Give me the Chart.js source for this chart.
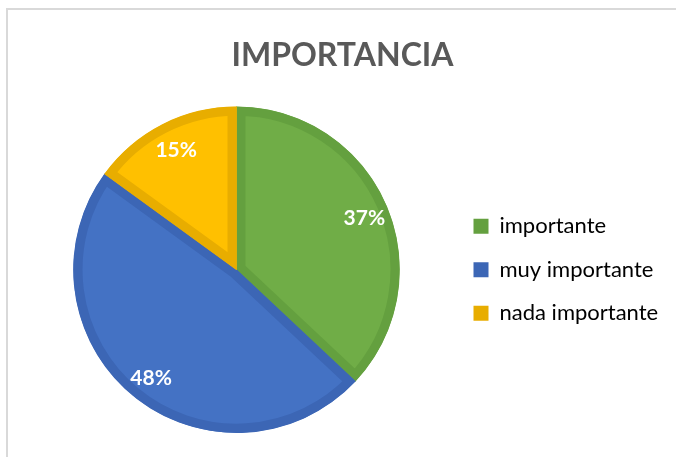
<!DOCTYPE html>
<html>
<head>
<meta charset="utf-8">
<script src="https://cdn.jsdelivr.net/npm/chart.js@4"></script>
<style>
  body { margin: 0; background: #fff; }
  #frame { position: absolute; left: 6px; top: 8px; width: 700px; height: 500px;
           border-left: 2px solid #d9d9d9; border-top: 2px solid #d9d9d9; }
  #wrap { position: absolute; left: 0; top: 0; width: 676px; height: 457px; }
</style>
</head>
<body>
<div id="frame"></div>
<div id="wrap"><canvas id="pieChart" width="676" height="457"></canvas></div>
<script>
const categories = ['importante', 'muy importante', 'nada importante'];
const values = [37, 48, 15];
const fillColors = ['#70AD47', '#4472C4', '#FFC000'];
const edgeColors = ['#64A03F', '#3C66B5', '#E8AD00'];

// percentage labels drawn inside each slice
const sliceLabels = {
    id: 'sliceLabels',
    afterDatasetsDraw(chart) {
        const ctx = chart.ctx;
        const meta = chart.getDatasetMeta(0);
        const total = values.reduce((a, b) => a + b, 0);
        ctx.save();
        ctx.font = 'bold 21px Lato';
        ctx.fillStyle = '#ffffff';
        ctx.textAlign = 'center';
        ctx.textBaseline = 'middle';
        meta.data.forEach((arc, i) => {
            const p = arc.getProps(['x', 'y', 'startAngle', 'endAngle', 'outerRadius']);
            const mid = (p.startAngle + p.endAngle) / 2;
            const r = p.outerRadius * 0.84;
            const txt = Math.round(values[i] / total * 100) + '%';
            ctx.fillText(txt, p.x + Math.cos(mid) * r + 2, p.y + Math.sin(mid) * r + 3);
        });
        ctx.restore();
    }
};

// fixed legend width so the items sit where they should
const legendWidth = {
    id: 'legendWidth',
    beforeLayout(chart) {
        const lg = chart.legend;
        if (lg && !lg._patched) {
            const orig = lg.fit;
            lg.fit = function () { orig.call(this); this.width = 212; };
            lg._patched = true;
        }
    }
};

const ctx = document.getElementById('pieChart').getContext('2d');
new Chart(ctx, {
    type: 'pie',
    data: {
        labels: categories,
        datasets: [{
            data: values,
            backgroundColor: fillColors,
            borderColor: edgeColors,
            borderWidth: 9,
            borderAlign: 'inner',
            borderJoinStyle: 'miter'
        }]
    },
    options: {
        responsive: false,
        animation: false,
        layout: { padding: { left: 21, right: 12, top: 0, bottom: 24 } },
        plugins: {
            title: {
                display: true,
                text: 'IMPORTANCIA',
                color: '#595959',
                font: { family: 'Lato', size: 32, weight: 'bold', lineHeight: 1.2 },
                padding: { top: 36, bottom: 32 }
            },
            legend: {
                display: true,
                position: 'right',
                fullSize: false,
                labels: {
                    color: '#595959',
                    font: { family: 'Lato', size: 22 },
                    boxWidth: 15,
                    boxHeight: 15,
                    padding: 21.5,
                    generateLabels(chart) {
                        return categories.map((c, i) => ({
                            text: c,
                            fillStyle: edgeColors[i],
                            strokeStyle: edgeColors[i],
                            lineWidth: 0,
                            index: i
                        }));
                    }
                }
            },
            tooltip: { enabled: false }
        }
    },
    plugins: [sliceLabels, legendWidth]
});
</script>
</body>
</html>
